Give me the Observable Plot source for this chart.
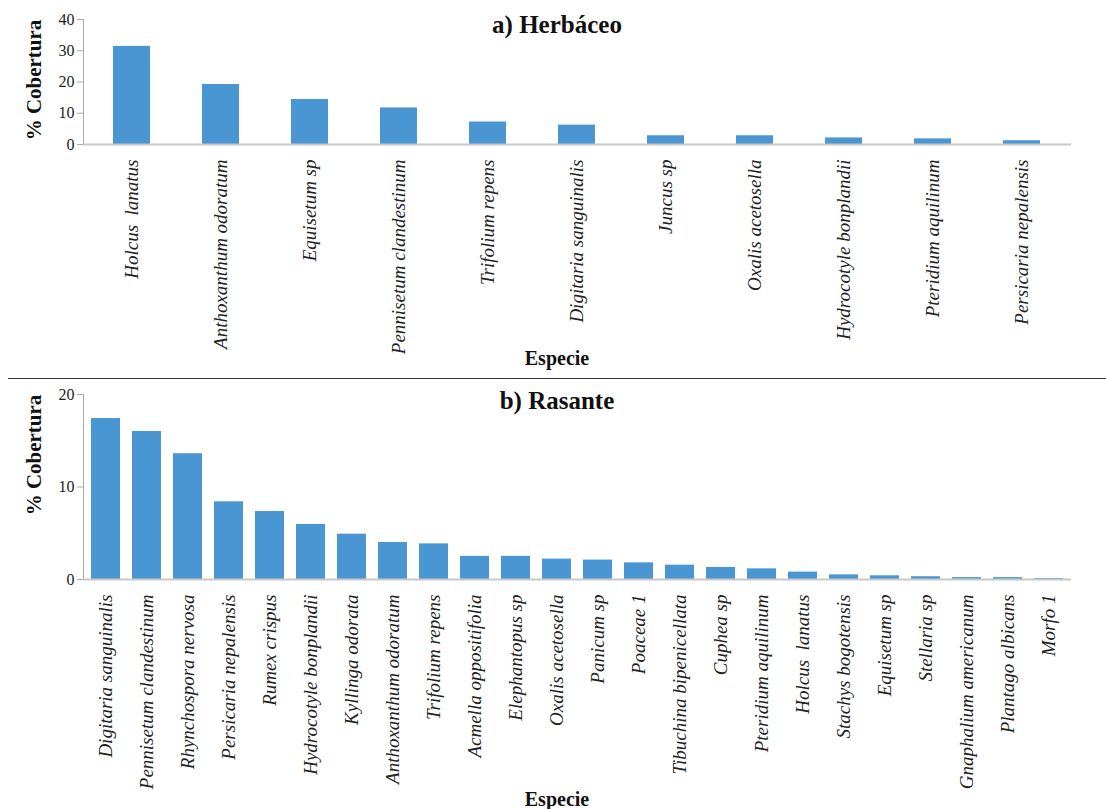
<!DOCTYPE html>
<html><head><meta charset="utf-8">
<script src="https://cdn.jsdelivr.net/npm/d3@7"></script>
<script src="https://cdn.jsdelivr.net/npm/@observablehq/plot@0.6"></script>
<style>
body{margin:0;background:#fff;font-family:"Liberation Serif","Tinos","Times New Roman","DejaVu Serif",serif;}
#wrap{position:relative;width:1106px;height:809px;overflow:hidden;background:#fff}
.t{position:absolute;font-weight:bold;color:#111;white-space:nowrap;transform:translateX(-50%);line-height:1}
.yl{position:absolute;font-weight:bold;font-size:21px;color:#111;white-space:nowrap;line-height:1;transform:translate(-50%,-50%) rotate(-90deg)}
svg text{white-space:pre}
.sep{position:absolute;left:8px;right:0;top:378px;border-top:1.5px solid #333}
.p{position:absolute;left:0}
</style></head><body>
<div id="wrap">
  <div id="top" class="p" style="top:0"></div>
  <div id="bot" class="p" style="top:380px"></div>
  <div class="sep"></div>
  <div class="t" style="left:557px;top:12px;font-size:25px">a) Herbáceo</div>
  <div class="t" style="left:557px;top:388px;font-size:25px">b) Rasante</div>
  <div class="t" style="left:557px;top:348px;font-size:20px">Especie</div>
  <div class="t" style="left:557px;top:789px;font-size:20px">Especie</div>
  <div class="yl" style="left:34px;top:80px">% Cobertura</div>
  <div class="yl" style="left:34px;top:455px">% Cobertura</div>
</div>
<script>
const herbCats = ["Holcus  lanatus","Anthoxanthum odoratum","Equisetum sp","Pennisetum clandestinum","Trifolium repens","Digitaria sanguinalis","Juncus sp","Oxalis acetosella","Hydrocotyle bonplandii","Pteridium aquilinum","Persicaria nepalensis"];
const herbVals = [31.4,19.2,14.4,11.7,7.2,6.2,2.8,2.8,2.1,1.8,1.2];
const herbTicks = [0,10,20,30,40];

const rasCats = ["Digitaria sanguinalis","Pennisetum clandestinum","Rhynchospora nervosa","Persicaria nepalensis","Rumex crispus","Hydrocotyle bonplandii","Kyllinga odorata","Anthoxanthum odoratum","Trifolium repens","Acmella oppositifolia","Elephantopus sp","Oxalis acetosella","Panicum sp","Poaceae 1","Tibuchina bipenicellata","Cuphea sp","Pteridium aquilinum","Holcus  lanatus","Stachys bogotensis","Equisetum sp","Stellaria sp","Gnaphalium americanum","Plantago albicans","Morfo 1"];
const rasVals = [17.4,16.0,13.6,8.4,7.35,5.95,4.9,4.0,3.85,2.5,2.5,2.2,2.1,1.8,1.55,1.3,1.15,0.8,0.5,0.4,0.3,0.2,0.2,0.1];
const rasTicks = [0,10,20];

const barColor = "#4a96d3";
const serif = '"Liberation Serif","Tinos","Times New Roman","DejaVu Serif",serif';

function chart(cats, vals, ticks, ymax, opts) {
  const data = cats.map((c, i) => ({cat: c, v: vals[i]}));
  return Plot.plot({
    width: 1106,
    height: opts.height,
    marginLeft: 83,
    marginRight: 35,
    marginTop: opts.mt,
    marginBottom: opts.mb,
    style: {fontFamily: serif, background: "white", color: "#222", overflow: "visible"},
    x: {domain: cats, paddingInner: opts.pi, paddingOuter: opts.po, label: null},
    y: {domain: [0, ymax], label: null},
    marks: [
      Plot.barY(data, {x: "cat", y: "v", fill: barColor}),
      Plot.axisY({ticks: ticks, tickSize: 6, tickPadding: 3, fontSize: 16, stroke: "#aaa", label: null}),
      Plot.axisX({tickSize: 0, tickRotate: -90, tickPadding: 15, fontSize: 19, fontStyle: "italic", label: null}),
      Plot.frame({anchor: "left", stroke: "#aaa"}),
      Plot.ruleY([0], {stroke: "#c8c8c8", strokeWidth: 2})
    ]
  });
}

document.getElementById("top").append(chart(herbCats, herbVals, herbTicks, 40, {height: 375, mt: 19, mb: 231, pi: 0.58, po: 0.29}));
document.getElementById("bot").append(chart(rasCats, rasVals, rasTicks, 20, {height: 429, mt: 14, mb: 230, pi: 0.3, po: 0.15}));
</script>
</body></html>
